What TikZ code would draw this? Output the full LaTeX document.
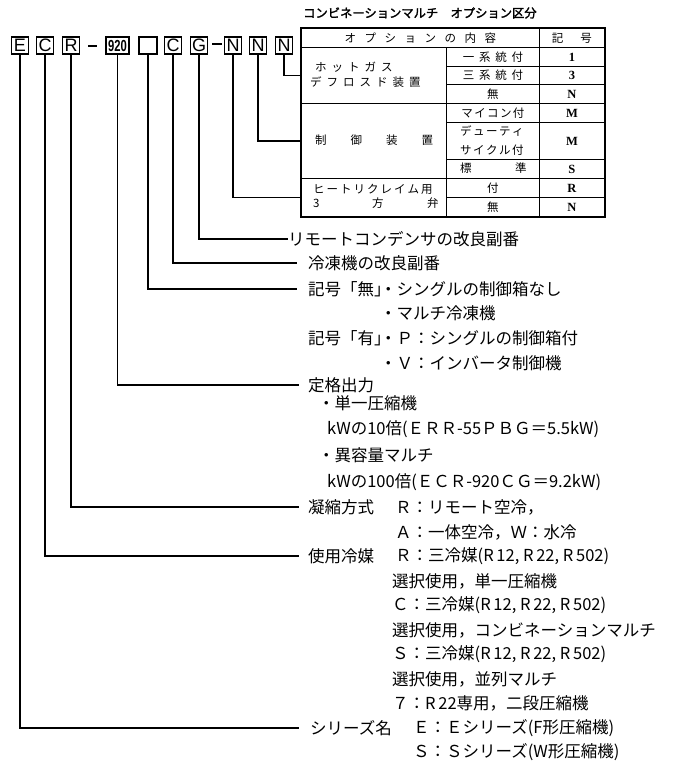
\documentclass[tikz,border=0pt]{standalone}
\usepackage{fontspec}
\usepackage{graphicx}
\setmainfont{Liberation Serif}
\newfontfamily\jp{Noto Sans CJK JP}
\newfontfamily\jpb{Noto Sans CJK JP}[FakeBold=2]
\newfontfamily\cod{Liberation Sans}
\newfontfamily\kig{Liberation Serif}
\makeatletter
\def\lsp#1#2{\def\lsp@gap{#1}\lsp@loop#2\relax}
\def\lsp@loop#1{\ifx#1\relax\else#1\expandafter\lsp@next\fi}
\def\lsp@next#1{\ifx#1\relax\else\hspace*{\lsp@gap}\fi\lsp@loop#1}
\makeatother
\tikzset{
  codebox/.style={draw, line width=1.3pt, minimum height=17pt, inner sep=0pt, font=\cod\fontsize{18}{18}\selectfont},
  lbl/.style={anchor=west, inner sep=0pt, font=\jp\fontsize{16.5}{18}\selectfont},
  tcell/.style={draw, line width=0.9pt, anchor=north west, inner sep=0pt, font=\jp\fontsize{11.5}{13}\selectfont},
  ttext/.style={anchor=west, inner sep=0pt, font=\jp\fontsize{11.5}{13}\selectfont},
  kcell/.style={draw, line width=0.9pt, anchor=north west, inner sep=0pt, minimum width=65pt, font=\kig\bfseries\fontsize{12.5}{13}\selectfont},
  conn/.style={line width=1.1pt},
}
\begin{document}
\begin{tikzpicture}[x=1pt,y=-1pt]
\useasboundingbox (0,0) rectangle (677,766);
% code boxes
\node[codebox, minimum width=17pt] (e) at (20,45.5) {E};
\node[codebox, minimum width=17pt] (c) at (45,45.5) {C};
\node[codebox, minimum width=17pt] (r) at (71,45.5) {R};
\node[codebox, minimum width=23pt] (n920) at (117.5,45.5) {\scalebox{0.7}[1]{\fontsize{16}{16}\selectfont\bfseries 920}};
\node[codebox, minimum width=18pt] (blank) at (148,45.5) {};
\node[codebox, minimum width=17pt] (c2) at (173,45.5) {C};
\node[codebox, minimum width=17pt] (g) at (199,45.5) {G};
\node[codebox, minimum width=17pt] (n1) at (233,45.5) {N};
\node[codebox, minimum width=17pt] (n2) at (258,45.5) {N};
\node[codebox, minimum width=17pt] (n3) at (284,45.5) {N};
\draw[line width=1.6pt] (88,46) -- (97,46);
\draw[line width=1.6pt] (212,44) -- (222,44);
% title
\node[anchor=west, inner sep=0pt, font=\jpb\fontsize{12.3}{13}\selectfont] (title) at (303,13) {コンビネーションマルチ　オプション区分};
% table
\node[tcell, minimum width=238pt, minimum height=19pt] (hdr) at (301,28) {\lsp{8.5pt}{オプションの内容}};
\node[tcell, minimum width=65pt, minimum height=19pt] (hdrk) at (539,28) {\lsp{17pt}{記号}};
\node[tcell, minimum width=145pt, minimum height=56pt] (hot) at (301,47) {};
\node[tcell, minimum width=93pt, minimum height=19pt] (r1) at (446,47) {\lsp{4.7pt}{一系統付}};
\node[tcell, minimum width=93pt, minimum height=18pt] (r2) at (446,66) {\lsp{4.7pt}{三系統付}};
\node[tcell, minimum width=93pt, minimum height=19pt] (r3) at (446,84) {無};
\node[kcell, minimum height=19pt] (k1) at (539,47) {1};
\node[kcell, minimum height=18pt] (k2) at (539,66) {3};
\node[kcell, minimum height=19pt] (k3) at (539,84) {N};
\node[tcell, minimum width=145pt, minimum height=75pt] (ctl) at (301,103) {};
\node[tcell, minimum width=93pt, minimum height=19pt] (r4) at (446,103) {\lsp{1.4pt}{マイコン付}};
\node[tcell, minimum width=93pt, minimum height=37pt] (r5) at (446,122) {};
\node[tcell, minimum width=93pt, minimum height=19pt] (r6) at (446,159) {};
\node[kcell, minimum height=19pt] (k4) at (539,103) {M};
\node[kcell, minimum height=37pt] (k5) at (539,122) {M};
\node[kcell, minimum height=19pt] (k6) at (539,159) {S};
\node[tcell, minimum width=145pt, minimum height=38pt] (rec) at (301,178) {};
\node[tcell, minimum width=93pt, minimum height=19pt] (r7) at (446,178) {付};
\node[tcell, minimum width=93pt, minimum height=19pt] (r8) at (446,197) {無};
\node[kcell, minimum height=19pt] (k7) at (539,178) {R};
\node[kcell, minimum height=19pt] (k8) at (539,197) {N};
\draw[line width=1.5pt] (hdr.north west) rectangle (k8.south east);
% table texts
\node[ttext] (hg1) at (315,67) {\lsp{5pt}{ホットガス}};
\node[ttext] (hg2) at (310,82) {\lsp{5pt}{デフロスド装置}};
\node[ttext] (cs) at (315,140.5) {\lsp{24pt}{制御装置}};
\node[ttext] (dt1) at (460,131) {\lsp{1.5pt}{デューティ}};
\node[ttext] (dt2) at (460,150) {\lsp{1.5pt}{サイクル付}};
\node[ttext] (hy) at (460,168.5) {標};
\node[ttext] (jn) at (515,168.5) {準};
\node[ttext] (hr1) at (313,189) {\lsp{2pt}{ヒートリクレイム用}};
\node[ttext] (hr2) at (313,203) {3};
\node[ttext] (hr3) at (372,203) {方};
\node[ttext] (hr4) at (427,203) {弁};
% explanation texts
\node[lbl] (t1) at (288,239) {リモートコンデンサの改良副番};
\node[lbl] (t2) at (308,263) {冷凍機の改良副番};
\node[lbl] (t3) at (308,289) {記号「無」};
\node[lbl] (t3b) at (380,289) {・シングルの制御箱なし};
\node[lbl] (t4) at (380,313) {・マルチ冷凍機};
\node[lbl] (t5) at (308,338) {記号「有」};
\node[lbl] (t5b) at (380,338) {・Ｐ：シングルの制御箱付};
\node[lbl] (t6) at (380,363) {・Ｖ：インバータ制御機};
\node[lbl] (t7) at (308,385) {定格出力};
\node[lbl] (t8) at (318,403) {・単一圧縮機};
\node[lbl] (t9) at (327,429) {kWの10倍(ＥＲＲ-55ＰＢＧ＝5.5kW)};
\node[lbl] (t10) at (318,455) {・異容量マルチ};
\node[lbl] (t11) at (327,482) {kWの100倍(ＥＣＲ-920ＣＧ＝9.2kW)};
\node[lbl] (t12) at (308,507) {凝縮方式};
\node[lbl] (t12b) at (395,507) {Ｒ：リモート空冷，};
\node[lbl] (t13) at (395,532) {Ａ：一体空冷，Ｗ：水冷};
\node[lbl] (t14) at (308,556) {使用冷媒};
\node[lbl] (t14b) at (395,556) {Ｒ：三冷媒(R\,12, R\,22, R\,502)};
\node[lbl] (t15) at (392,581) {選択使用，単一圧縮機};
\node[lbl] (t16) at (392,605) {Ｃ：三冷媒(R\,12, R\,22, R\,502)};
\node[lbl] (t17) at (392,630) {選択使用，コンビネーションマルチ};
\node[lbl] (t18) at (392,654) {Ｓ：三冷媒(R\,12, R\,22, R\,502)};
\node[lbl] (t19) at (392,679) {選択使用，並列マルチ};
\node[lbl] (t20) at (392,703) {７：R\,22専用，二段圧縮機};
\node[lbl] (t21) at (310,728) {シリーズ名};
\node[lbl] (t21b) at (413,728) {Ｅ：Ｅシリーズ(F形圧縮機)};
\node[lbl] (t22) at (413,752) {Ｓ：Ｓシリーズ(W形圧縮機)};
% connectors
\draw[conn] (n3.south) |- (hot.west);
\draw[conn] (n2.south) |- (ctl.west);
\draw[conn] (n1.south) |- (rec.west);
\draw[conn] (g.south) |- (t1.west);
\draw[conn] (c2.south) |- ([xshift=-11pt]t2.west);
\draw[conn] (blank.south) |- ([xshift=-11pt]t3.west);
\draw[conn] (n920.south) |- ([xshift=-9pt]t7.west);
\draw[conn] (r.south) |- ([xshift=-9pt]t12.west);
\draw[conn] (c.south) |- ([xshift=-9pt]t14.west);
\draw[conn] (e.south) |- ([xshift=-11pt]t21.west);
\end{tikzpicture}
\end{document}
